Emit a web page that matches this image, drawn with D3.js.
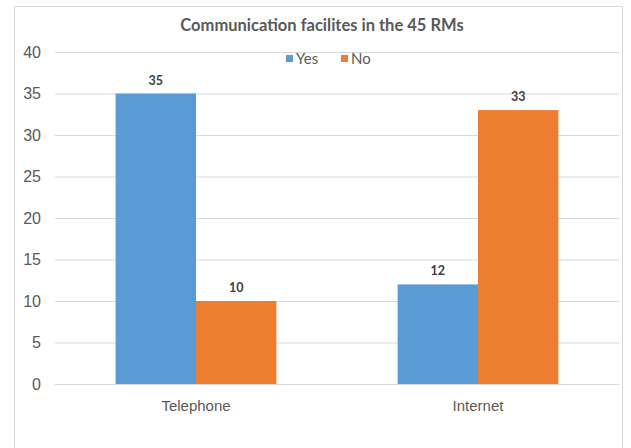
<!DOCTYPE html>
<html><head><meta charset="utf-8">
<script src="https://cdn.jsdelivr.net/npm/d3@7"></script>
<style>body{margin:0;background:#fff;} svg{display:block;font-family:Lato, "Open Sans", sans-serif;}</style>
</head><body>
<div id="chart"></div>
<script>
const categories = ["Telephone", "Internet"];
const seriesNames = ["Yes", "No"];
const yesValues = [35, 12];
const noValues = [10, 33];
const yTicks = [0, 5, 10, 15, 20, 25, 30, 35, 40];
const colors = ["#5B9BD5", "#ED7D31"];

(function () {
const W = 631, H = 448;
const svg = d3.select("#chart").append("svg").attr("width", W).attr("height", H);
svg.append("rect").attr("x", 14.5).attr("y", 6.5).attr("width", 608).attr("height", 460)
  .attr("fill", "#fff").attr("stroke", "#d9d9d9");

const mLeft = 55, mRight = 619, mTop = 52, mBottom = 384;
const x = d3.scaleBand().domain(categories).range([mLeft, mRight]).paddingInner(0.43).paddingOuter(0.215);
const x1 = d3.scaleBand().domain(seriesNames).range([0, x.bandwidth()]);
const y = d3.scaleLinear().domain([0, 40]).range([mBottom, mTop]);

const yAxis = d3.axisLeft(y).tickValues(yTicks).tickSize(-(mRight - mLeft)).tickPadding(14);
const gy = svg.append("g").attr("transform", `translate(${mLeft},0)`).call(yAxis);
gy.select(".domain").remove();
gy.selectAll(".tick line").attr("stroke", "#d9d9d9");
gy.selectAll(".tick text").attr("fill", "#595959").style("font-size", "16px");

const data = categories.map((c, i) => ({cat: c, vals: [yesValues[i], noValues[i]]}));
const groups = svg.append("g").selectAll("g").data(data).join("g")
  .attr("transform", d => `translate(${x(d.cat)},0)`);
groups.selectAll("rect").data(d => d.vals.map((v, j) => ({name: seriesNames[j], v, j})))
  .join("rect")
  .attr("x", d => x1(d.name)).attr("width", x1.bandwidth())
  .attr("y", d => y(d.v)).attr("height", d => y(0) - y(d.v))
  .attr("fill", d => colors[d.j]);
groups.selectAll("text").data(d => d.vals.map((v, j) => ({name: seriesNames[j], v, j})))
  .join("text")
  .attr("x", d => x1(d.name) + x1.bandwidth() / 2).attr("y", d => y(d.v) - 9)
  .attr("text-anchor", "middle").attr("fill", "#404040")
  .style("font-size", "12.5px").style("font-weight", "bold").text(d => d.v);

const gx = svg.append("g").attr("transform", `translate(0,${mBottom})`)
  .call(d3.axisBottom(x).tickSize(0).tickPadding(16));
gx.select(".domain").attr("stroke", "#d9d9d9");
gx.selectAll(".tick text").attr("fill", "#595959").style("font-size", "15px");

svg.append("text").attr("x", 322).attr("y", 31).attr("text-anchor", "middle")
  .attr("fill", "#595959").style("font-size", "16.5px").style("font-weight", "bold")
  .text("Communication facilites in the 45 RMs");

const legendX = [286, 341];
const lg = svg.append("g").selectAll("g").data(seriesNames).join("g")
  .attr("transform", (d, i) => `translate(${legendX[i]},55)`);
lg.append("rect").attr("width", 7).attr("height", 7).attr("fill", (d, i) => colors[i]);
lg.append("text").attr("x", 10).attr("y", 8.5).attr("fill", "#595959").style("font-size", "15px").text(d => d);
})();
</script>
</body></html>
